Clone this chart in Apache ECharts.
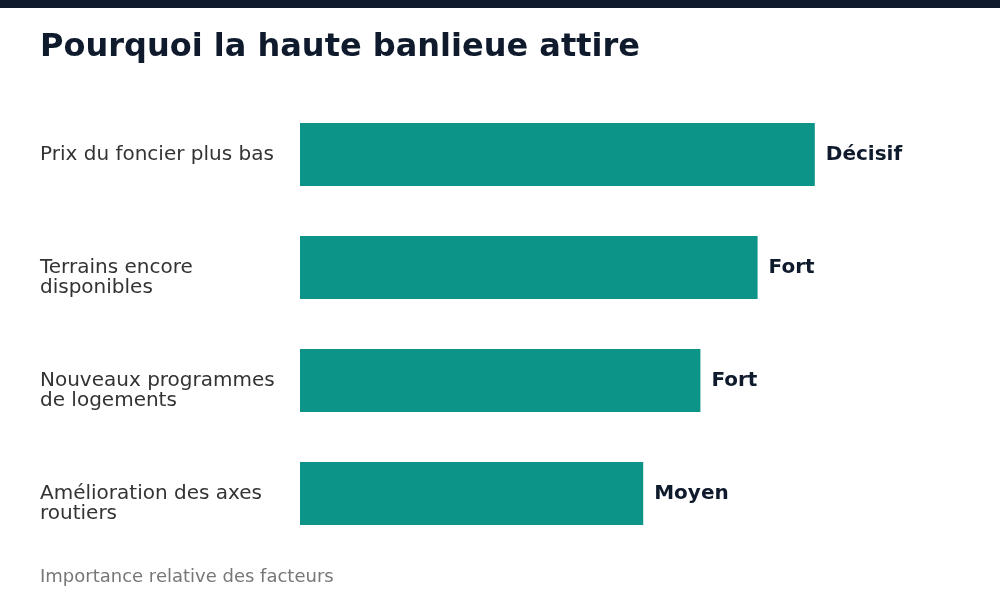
<!DOCTYPE html>
<html style="height: 100%">
<head>
<meta charset="utf-8">
</head>
<body style="height: 100%; margin: 0">
<div id="container" style="width: 1000px; height: 600px"></div>
<script type="text/javascript" src="https://cdn.jsdelivr.net/npm/echarts@6/dist/echarts.min.js"></script>
<script type="text/javascript">
// facteurs, du haut vers le bas
var categories = ['Prix du foncier plus bas', 'Terrains encore\ndisponibles', 'Nouveaux programmes\nde logements', 'Amélioration des axes\nroutiers'];
var values = [90, 80, 70, 60];
var levels = ['Décisif', 'Fort', 'Fort', 'Moyen'];

var dom = document.getElementById('container');
var myChart = echarts.init(dom);
var font = 'DejaVu Sans';

var option = {
    animation: false,
    backgroundColor: '#ffffff',
    textStyle: { fontFamily: font },
    title: {
        text: 'Pourquoi la haute banlieue attire',
        left: 40,
        top: 32,
        padding: 0,
        textStyle: { fontSize: 32, fontWeight: 'bold', color: '#0f1b2d', fontFamily: font }
    },
    graphic: [
        { type: 'rect', left: 0, top: 0, shape: { width: 1000, height: 8 }, style: { fill: '#0f1b2d' } },
        { type: 'text', left: 40, top: 568, style: { text: 'Importance relative des facteurs', fill: '#777777', fontSize: 18, fontFamily: font } }
    ],
    grid: { left: 300, right: 128, top: 98, bottom: 50, containLabel: false },
    xAxis: {
        type: 'value', min: 0, max: 100, show: false
    },
    yAxis: {
        type: 'category',
        inverse: true,
        data: categories,
        axisLine: { show: false },
        axisTick: { show: false },
        axisLabel: {
            align: 'left',
            margin: 260,
            fontSize: 20,
            lineHeight: 20,
            color: '#333333',
            fontFamily: font,
            // première ligne centrée sur la barre
            formatter: function (v) { return v.indexOf('\n') >= 0 ? '\n' + v : v; }
        }
    },
    series: [{
        type: 'bar',
        data: values,
        barWidth: 63,
        itemStyle: { color: '#0d9488' },
        label: {
            show: true,
            position: 'right',
            distance: 11,
            fontSize: 20,
            fontWeight: 'bold',
            color: '#0f1b2d',
            fontFamily: font,
            formatter: function (p) { return levels[p.dataIndex]; }
        }
    }]
};
myChart.setOption(option);
</script>
</body>
</html>
